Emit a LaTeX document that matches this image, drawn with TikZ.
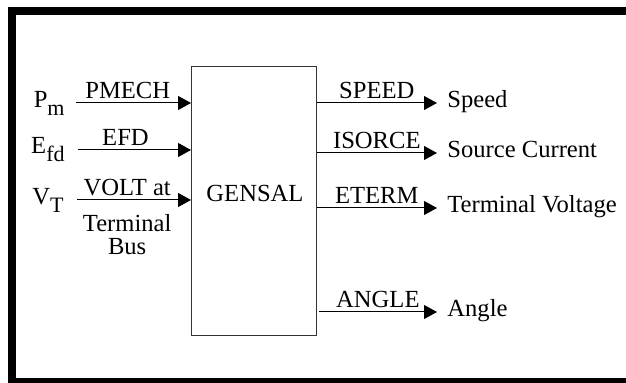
\documentclass[tikz,border=0pt]{standalone}
\usepackage{fontspec}
\setmainfont{Liberation Serif}
\usetikzlibrary{arrows.meta,positioning,calc}
\newcommand{\lsub}[1]{\raisebox{-4pt}{\fontsize{11}{11}\selectfont #1}}

\begin{document}
\begin{tikzpicture}[
  x=0.5pt,y=-0.5pt,
  font=\fontsize{12.3}{11.7}\selectfont,
  frame/.style={line width=4pt},
  block/.style={draw=black!80,line width=.5pt,minimum width=62.5pt,minimum height=134.75pt,inner sep=0pt},
  sig/.style={-{Triangle[length=6.5pt,width=7pt]},line width=.5pt},
  signame/.style={inner sep=2pt},
  inlbl/.style={inner sep=0pt},
  outlbl/.style={anchor=mid west,inner sep=0pt}
]
\useasboundingbox (0,0) rectangle (626,383);
\draw[frame] (626,11) -- (12,11) -- (12,382) -- (626,382);

\node[block] (gensal) at (254,201.25) {};
\node (gname) at (255,193) {GENSAL};

% inputs
\coordinate (pmIn) at (76,103);
\coordinate (efdIn) at (78,150);
\coordinate (vtIn) at (77,200);
\node[inlbl,left=5.5pt of pmIn] (pm) {P\lsub{m}};
\node[inlbl,left=6.5pt of efdIn] (efd) {E\lsub{fd}};
\node[inlbl,left=6.5pt of vtIn] (vt) {V\lsub{T}};
\draw[sig] (pmIn) -- node[signame,above,pos=.45] (pmSig) {PMECH} (pmIn -| gensal.west);
\draw[sig] (efdIn) -- node[signame,above,pos=.42] (efdSig) {EFD} (efdIn -| gensal.west);
\draw[sig] (vtIn) -- node[signame,above,pos=.44] (vtSig) {VOLT at}
  node[signame,below,pos=.44,align=center,yshift=-5pt] (vtBus) {Terminal\\Bus} (vtIn -| gensal.west);

% outputs
\node[outlbl] (speed) at (447,103) {Speed};
\node[outlbl] (isrc) at (447,153) {Source Current};
\node[outlbl] (eterm) at (447,208) {Terminal Voltage};
\node[outlbl] (angle) at (447,312) {Angle};
\draw[sig,shorten >=5pt] (gensal.east |- speed.mid west) -- node[signame,above,pos=.46] (speedSig) {SPEED} (speed.mid west);
\draw[sig,shorten >=5pt] (gensal.east |- isrc.mid west) -- node[signame,above,pos=.46] (isrcSig) {ISORCE} (isrc.mid west);
\draw[sig,shorten >=5pt] (gensal.east |- eterm.mid west) -- node[signame,above,pos=.46] (etermSig) {ETERM} (eterm.mid west);
\draw[sig,shorten >=5pt] ([xshift=1pt]gensal.east |- angle.mid west) -- node[signame,above,pos=.46] (angleSig) {ANGLE} (angle.mid west);
\end{tikzpicture}
\end{document}
